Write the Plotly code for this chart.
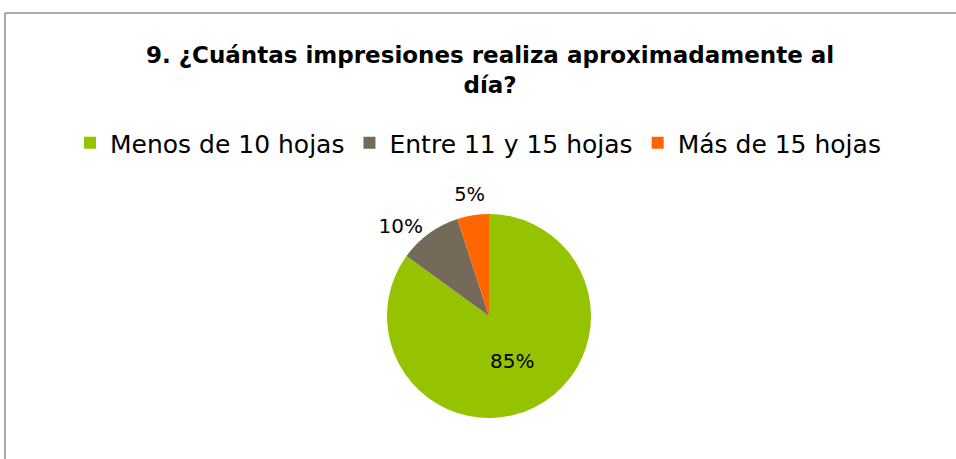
import plotly.graph_objects as go

labels = ["Menos de 10 hojas", "Entre 11 y 15 hojas", "Más de 15 hojas"]
values = [85, 10, 5]
colors = ["#96C300", "#756A5A", "#FF6600"]
title_text = "9. ¿Cuántas impresiones realiza aproximadamente al<br>día?"

W, H = 956, 459
FONT = "DejaVu Sans"
CX, CY, R = 489, 316, 102      # pie centre / radius in px
R_LBL = 143                     # outer radius of the transparent label ring

pie_main = go.Pie(
    labels=labels,
    values=values,
    marker=dict(colors=colors, line=dict(color="white", width=0)),
    sort=False,
    direction="clockwise",
    rotation=0,
    texttemplate=["%{percent:.0%}", "%{percent:.0%}", ""],
    textposition=["inside", "outside", "inside"],
    textfont=dict(family=FONT, size=20, color="black"),
    insidetextorientation="horizontal",
    domain=dict(x=[(CX - R) / W, (CX + R) / W], y=[1 - (CY + R) / H, 1 - (CY - R) / H]),
    hoverinfo="label+percent",
)

# transparent ring around the pie that carries the label of the smallest slice
pie_lbl = go.Pie(
    labels=labels,
    values=values,
    marker=dict(colors=["rgba(0,0,0,0)"] * 3, line=dict(width=0)),
    sort=False,
    direction="clockwise",
    rotation=0,
    hole=R / R_LBL,
    texttemplate=["", "", "%{percent:.0%}"],
    textposition="inside",
    textfont=dict(family=FONT, size=20, color="black"),
    insidetextorientation="horizontal",
    showlegend=False,
    hoverinfo="skip",
    domain=dict(x=[(CX - R_LBL) / W, (CX + R_LBL) / W], y=[max(0, 1 - (CY + R_LBL) / H), 1 - (CY - R_LBL) / H]),
)

fig = go.Figure([pie_main, pie_lbl])

fig.update_layout(
    width=W, height=H,
    margin=dict(l=0, r=0, t=0, b=0),
    paper_bgcolor="white",
    plot_bgcolor="white",
    showlegend=True,
    legend=dict(
        orientation="h",
        x=0.5, xanchor="center",
        y=1 - 143 / H, yanchor="middle",
        font=dict(family=FONT, size=25, color="black"),
        itemwidth=30,
        traceorder="normal",
    ),
    annotations=[dict(
        text="<b>" + title_text + "</b>",
        x=490 / W, y=1 - 70 / H, xref="paper", yref="paper",
        xanchor="center", yanchor="middle",
        showarrow=False,
        font=dict(family=FONT, size=23, color="black"),
        align="center",
    )],
    shapes=[
        dict(type="line", xref="paper", yref="paper",
             x0=5 / W, x1=1.0, y0=1 - 13 / H, y1=1 - 13 / H,
             line=dict(color="#8C8C8C", width=1.5)),
        dict(type="line", xref="paper", yref="paper",
             x0=5 / W, x1=5 / W, y0=1 - 13 / H, y1=0,
             line=dict(color="#8C8C8C", width=1.5)),
    ],
)

fig.write_html(
    "out.html",
    config={"displayModeBar": False},
    post_script="document.body.style.margin='0px';document.documentElement.style.overflow='hidden';",
)
